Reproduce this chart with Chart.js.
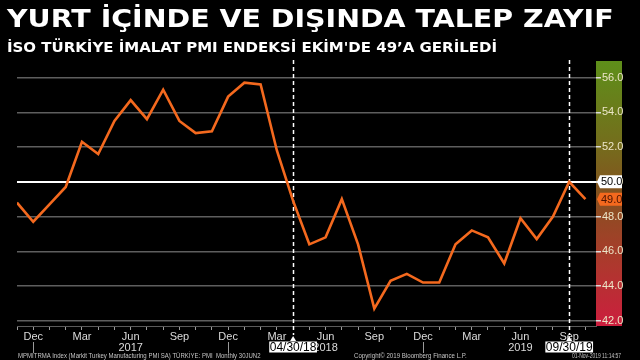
<!DOCTYPE html>
<html>
<head>
<meta charset="utf-8">
<script src="https://cdn.jsdelivr.net/npm/chart.js@4/dist/chart.umd.min.js"></script>
<style>
  html, body { margin: 0; padding: 0; background: #000; }
  #wrap { position: relative; width: 640px; height: 360px; overflow: hidden; background: #000; }
  canvas { position: absolute; left: 0; top: 0; }
  .fit { position: absolute; white-space: nowrap; transform-origin: 0 0; line-height: normal; }
  #title { left: 7px; top: 5px; color: #fff; font: bold 24px "DejaVu Sans", sans-serif; }
  #sub { left: 7px; top: 39px; color: #fff; font: bold 14px "DejaVu Sans", sans-serif; }
  .foot { top: 352px; color: #c4c4c4; font: 7px "Liberation Sans", sans-serif; line-height: 8px; }
</style>
</head>
<body>
<div id="wrap">
  <canvas id="pmiChart" width="640" height="360"></canvas>
  <div id="title" class="fit" data-w="607">YURT İÇİNDE VE DIŞINDA TALEP ZAYIF</div>
  <div id="sub" class="fit" data-w="490">İSO TÜRKİYE İMALAT PMI ENDEKSİ EKİM'DE 49’A GERİLEDİ</div>
  <div class="fit foot" style="left:18px" data-w="243">MPMITRMA Index (Markit Turkey Manufacturing PMI SA) TÜRKİYE: PMI&nbsp; Monthly 30JUN2</div>
  <div class="fit foot" style="left:354px" data-w="113">Copyright© 2019 Bloomberg Finance L.P.</div>
  <div class="fit foot" style="left:572px" data-w="49">01-Nov-2019 11:14:57</div>
</div>
<script>
// monthly periods and PMI readings
const periods = [
  "2016-11", "2016-12",
  "2017-01", "2017-02", "2017-03", "2017-04", "2017-05", "2017-06",
  "2017-07", "2017-08", "2017-09", "2017-10", "2017-11", "2017-12",
  "2018-01", "2018-02", "2018-03", "2018-04", "2018-05", "2018-06",
  "2018-07", "2018-08", "2018-09", "2018-10", "2018-11", "2018-12",
  "2019-01", "2019-02", "2019-03", "2019-04", "2019-05", "2019-06",
  "2019-07", "2019-08", "2019-09", "2019-10"
];
const pmi = [
  48.8, 47.7,
  48.7, 49.7, 52.3, 51.6, 53.5, 54.7,
  53.6, 55.3, 53.5, 52.8, 52.9, 54.9,
  55.7, 55.6, 51.8, 48.9, 46.4, 46.8,
  49.0, 46.4, 42.7, 44.3, 44.7, 44.2,
  44.2, 46.4, 47.2, 46.8, 45.3, 47.9,
  46.7, 48.0, 50.0, 49.0
];
const monthNames = ["Jan", "Feb", "Mar", "Apr", "May", "Jun", "Jul", "Aug", "Sep", "Oct", "Nov", "Dec"];
const shownMonths = ["Dec", "Mar", "Jun", "Sep"];
const yTicks = [42, 44, 46, 48, 50, 52, 54, 56];
const refLevel = 50;
const markers = [
  { period: "2018-04", label: "04/30/18" },
  { period: "2019-09", label: "09/30/19" }
];

const monthOf = (i) => monthNames[parseInt(periods[i].slice(5), 10) - 1];
const yearOf = (i) => periods[i].slice(0, 4);

const lineColor = "#f4691e";

// fit the html texts to their measured width in the reference
document.querySelectorAll(".fit").forEach((el) => {
  const w = el.scrollWidth;
  el.style.transform = "scaleX(" + (parseFloat(el.dataset.w) / w) + ")";
});

function tag(ctx, x0, y, text, fill, textColor) {
  const x1 = x0 + 25, h = 6.5;
  ctx.beginPath();
  ctx.moveTo(x0, y);
  ctx.lineTo(x0 + 3, y - h);
  ctx.lineTo(x1, y - h);
  ctx.lineTo(x1, y + h);
  ctx.lineTo(x0 + 3, y + h);
  ctx.closePath();
  ctx.fillStyle = fill;
  ctx.fill();
  ctx.fillStyle = textColor;
  ctx.font = '11px "Liberation Sans"';
  ctx.textAlign = "left";
  ctx.textBaseline = "middle";
  ctx.fillText(text, x0 + 4, y + 0.5);
}

const bloombergPlugin = {
  id: "bloomberg",
  beforeDraw(chart) {
    const { ctx, chartArea } = chart;
    ctx.save();
    ctx.fillStyle = "#000";
    ctx.fillRect(0, 0, chart.width, chart.height);
    // coloured value bar on the right
    const g = ctx.createLinearGradient(0, chartArea.top, 0, chartArea.bottom);
    g.addColorStop(0, "#5e8f1a");
    g.addColorStop(0.3, "#736f1c");
    g.addColorStop(0.5, "#84521f");
    g.addColorStop(0.75, "#ab3a2c");
    g.addColorStop(1, "#cc1e3e");
    ctx.fillStyle = g;
    ctx.fillRect(chartArea.right, chartArea.top, 26, chartArea.bottom - chartArea.top);
    ctx.restore();
  },
  beforeDatasetsDraw(chart) {
    const { ctx, chartArea, scales } = chart;
    ctx.save();
    ctx.strokeStyle = "#fff";
    ctx.lineWidth = 1.5;
    ctx.setLineDash([4, 3]);
    markers.forEach((m) => {
      const x = Math.round(scales.x.getPixelForValue(periods.indexOf(m.period))) + 0.5;
      ctx.beginPath();
      ctx.moveTo(x, chartArea.top - 1);
      ctx.lineTo(x, chartArea.bottom + 9);
      ctx.stroke();
    });
    ctx.restore();
  },
  afterDraw(chart) {
    const { ctx, chartArea, scales } = chart;
    ctx.save();
    // year separators below the axis
    ctx.strokeStyle = "#9a9a9a";
    ctx.lineWidth = 1;
    periods.forEach((p, i) => {
      if (monthOf(i) === "Dec") {
        const x = Math.round(scales.x.getPixelForValue(i)) + 0.5;
        ctx.beginPath();
        ctx.moveTo(x, chartArea.bottom + 16);
        ctx.lineTo(x, chartArea.bottom + 27);
        ctx.stroke();
      }
    });
    // date boxes for the dashed lines
    ctx.font = '12px "Liberation Sans"';
    ctx.textAlign = "center";
    ctx.textBaseline = "middle";
    markers.forEach((m) => {
      const x = scales.x.getPixelForValue(periods.indexOf(m.period));
      ctx.fillStyle = "#fff";
      ctx.beginPath();
      ctx.moveTo(x - 3, chartArea.bottom + 15);
      ctx.lineTo(x + 3, chartArea.bottom + 15);
      ctx.lineTo(x, chartArea.bottom + 10);
      ctx.closePath();
      ctx.fill();
      const w = ctx.measureText(m.label).width + 1;
      ctx.fillRect(x - w / 2, chartArea.bottom + 15.5, w, 11);
      ctx.fillStyle = "#000";
      ctx.fillText(m.label, x, chartArea.bottom + 21.5);
    });
    // value tags on the right axis
    const x0 = chartArea.right + 1;
    tag(ctx, x0, scales.y.getPixelForValue(refLevel), refLevel.toFixed(1), "#fff", "#000");
    const last = pmi[pmi.length - 1];
    tag(ctx, x0, scales.y.getPixelForValue(last), last.toFixed(1), lineColor, "#4a1300");
    ctx.restore();
  }
};

new Chart(document.getElementById("pmiChart"), {
  type: "line",
  data: {
    datasets: [{
      data: pmi.map((v, i) => ({ x: i, y: v })),
      borderColor: lineColor,
      borderWidth: 2.6,
      pointRadius: 0,
      tension: 0,
      borderJoinStyle: "miter"
    }]
  },
  options: {
    responsive: false,
    animation: false,
    layout: { padding: { left: 17, top: 61, right: 0, bottom: 0 } },
    plugins: { legend: { display: false }, tooltip: { enabled: false } },
    scales: {
      x: {
        type: "linear",
        min: 0,
        max: 35.65,
        afterBuildTicks: (s) => { s.ticks = periods.map((p, i) => ({ value: i })); },
        afterFit: (s) => { s.height = 34; },
        border: { display: true, color: "#5a5a5a", width: 1 },
        grid: { drawOnChartArea: false, drawTicks: true, tickLength: 4, tickColor: "#9a9a9a", tickWidth: 1 },
        ticks: {
          autoSkip: false,
          maxRotation: 0,
          padding: 1,
          color: "#dcdcdc",
          font: { family: "Liberation Sans", size: 11, lineHeight: 1 },
          callback: (v) => {
            const m = monthOf(v);
            if (!shownMonths.includes(m)) return "";
            return m === "Jun" ? [m, yearOf(v)] : m;
          }
        }
      },
      y: {
        position: "right",
        min: 41.7,
        max: 56.95,
        afterBuildTicks: (s) => { s.ticks = yTicks.map((v) => ({ value: v })); },
        afterFit: (s) => { s.width = 44; },
        border: { display: false },
        grid: {
          color: (c) => (c.tick && c.tick.value === refLevel ? "#ffffff" : "#5e5e5e"),
          lineWidth: (c) => (c.tick && c.tick.value === refLevel ? 2 : 1.5),
          tickLength: 5,
          tickColor: "#dddddd"
        },
        ticks: {
          padding: 1,
          color: "#ece6c8",
          font: { family: "Liberation Sans", size: 11 },
          callback: (v) => v.toFixed(1)
        }
      }
    }
  },
  plugins: [bloombergPlugin]
});
</script>
</body>
</html>
